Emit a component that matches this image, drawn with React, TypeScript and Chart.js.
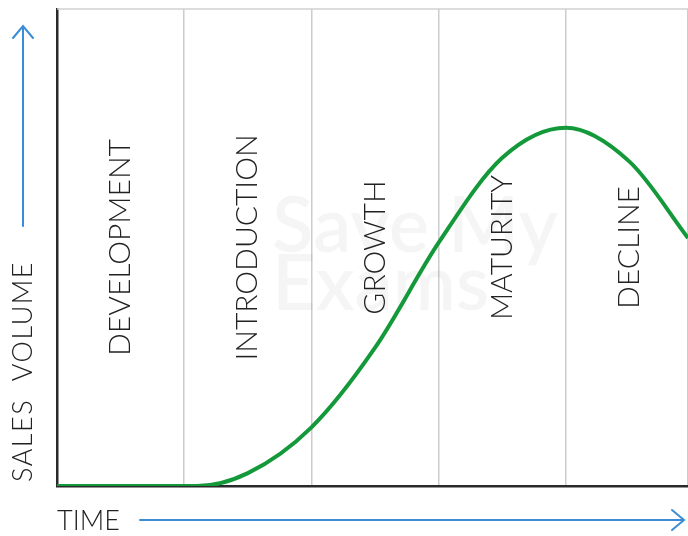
import React, { useEffect, useRef } from "react";
import { Chart, registerables } from "chart.js";

Chart.register(...registerables);

// Product life cycle: time in stage units, sales volume in % of full scale
const timeValues = [0, 1.1, 1.5, 2, 2.5, 3, 3.5, 4, 4.5, 4.96];
const salesValues = [0, 0, 2.7, 12.3, 29, 51, 68.8, 75.1, 68, 52];
const stageLabels = ["DEVELOPMENT", "INTRODUCTION", "GROWTH", "MATURITY", "DECLINE"];
const stageCenters = [0.5, 1.5, 2.5, 3.5, 4.5];
const xAxisLabel = "TIME";
const yAxisLabel = "SALES VOLUME";
const watermarkLines = ["Save My", "Exams"];

const FONT = "Lato, 'Noto Sans', sans-serif";
const BLUE = "#3a8cd6";

const overlayPlugin = {
  id: "overlay",
  beforeDatasetsDraw(chart: any) {
    const { ctx, chartArea, scales } = chart;
    ctx.save();
    // watermark
    ctx.fillStyle = "rgba(0,0,0,0.04)";
    ctx.font = `600 76px ${FONT}`;
    ctx.textAlign = "left";
    ctx.textBaseline = "alphabetic";
    ctx.fillText(watermarkLines[0], 272, 252);
    ctx.fillText(watermarkLines[1], 272, 310);
    // top border
    ctx.strokeStyle = "#d0d0d0";
    ctx.lineWidth = 1.5;
    ctx.beginPath();
    ctx.moveTo(chartArea.left, chartArea.top);
    ctx.lineTo(chartArea.right, chartArea.top);
    ctx.stroke();
    // stage labels
    ctx.fillStyle = "#222";
    ctx.font = `300 30px ${FONT}`;
    ctx.textAlign = "center";
    ctx.textBaseline = "middle";
    const cy = scales.y.getPixelForValue(50);
    stageLabels.forEach((t, i) => {
      const cx = scales.x.getPixelForValue(stageCenters[i]);
      ctx.save();
      ctx.translate(cx, cy);
      ctx.rotate(-Math.PI / 2);
      ctx.fillText(t, 0, 0);
      ctx.restore();
    });
    ctx.restore();
  },
  afterDraw(chart: any) {
    const { ctx, chartArea } = chart;
    ctx.save();
    ctx.fillStyle = "#222";
    ctx.font = `300 27px ${FONT}`;
    // y label
    ctx.save();
    ctx.translate(23, 482);
    ctx.rotate(-Math.PI / 2);
    ctx.textAlign = "left";
    ctx.textBaseline = "middle";
    (ctx as any).letterSpacing = "1.5px";
    ctx.fillText(yAxisLabel.replace(" ", "  "), 0, 0);
    ctx.restore();
    // x label
    ctx.textAlign = "left";
    ctx.textBaseline = "middle";
    ctx.fillText(xAxisLabel, chartArea.left, 521);
    // arrows
    ctx.strokeStyle = BLUE;
    ctx.lineWidth = 2;
    ctx.lineCap = "round";
    ctx.beginPath();
    ctx.moveTo(23, 226);
    ctx.lineTo(23, 26);
    ctx.moveTo(13, 38);
    ctx.lineTo(23, 26);
    ctx.lineTo(33, 38);
    ctx.stroke();
    ctx.beginPath();
    ctx.moveTo(140, 520);
    ctx.lineTo(684, 520);
    ctx.moveTo(672, 510);
    ctx.lineTo(684, 520);
    ctx.lineTo(672, 530);
    ctx.stroke();
    ctx.restore();
  },
};

export default function App() {
  const ref = useRef<HTMLCanvasElement>(null);
  useEffect(() => {
    document.body.style.margin = "0";
    const chart = new Chart(ref.current!, {
      type: "line",
      data: {
        datasets: [
          {
            data: timeValues.map((x, i) => ({ x, y: salesValues[i] })),
            borderColor: "#13993a",
            borderWidth: 4,
            pointRadius: 0,
            cubicInterpolationMode: "monotone",
            fill: false,
          },
        ],
      },
      options: {
        animation: false,
        responsive: false,
        layout: { padding: { left: 57, top: 9, right: 0, bottom: 50 } },
        plugins: { legend: { display: false }, tooltip: { enabled: false } },
        scales: {
          x: {
            type: "linear",
            min: 0,
            max: 4.96,
            ticks: { display: false, stepSize: 1 },
            grid: {
              drawTicks: false,
              color: (c: any) => (c.tick && c.tick.value > 0 ? "#cccccc" : "rgba(0,0,0,0)"),
              lineWidth: 1.5,
            },
            border: { color: "#2a2a2a", width: 2.5 },
          },
          y: {
            min: 0,
            max: 100,
            ticks: { display: false },
            grid: { display: false, drawTicks: false },
            border: { color: "#2a2a2a", width: 2.5 },
          },
        },
      },
      plugins: [overlayPlugin],
    } as any);
    return () => chart.destroy();
  }, []);
  return (
    <div style={{ position: "fixed", left: 0, top: 0, width: 688, height: 536 }}>
      <canvas ref={ref} width={688} height={536} style={{ width: 688, height: 536 }} />
    </div>
  );
}
